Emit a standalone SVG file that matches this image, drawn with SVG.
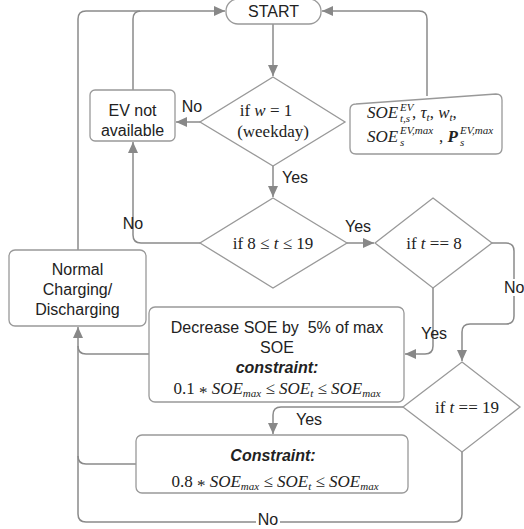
<svg xmlns="http://www.w3.org/2000/svg" width="524" height="529" viewBox="0 0 524 529">
<defs>
<marker id="ah" markerUnits="userSpaceOnUse" markerWidth="12" markerHeight="10" refX="11" refY="5" orient="auto">
<path d="M0,0 L11,5 L0,10 Z" fill="#888"/>
</marker>
<style>
.box{fill:#fff;stroke:#999;stroke-width:1.3}
.cn{fill:none;stroke:#8a8a8a;stroke-width:1.5}
.ar{marker-end:url(#ah)}
.t{font-family:"Liberation Sans",Arial,sans-serif;font-size:16px;fill:#222}
.m{font-family:"Liberation Serif","Times New Roman",serif;font-size:17px;fill:#222}
.i{font-style:italic}
.s{font-size:11px}
.lb{fill:#fff}
</style>
</defs>
<rect width="524" height="529" fill="#fff"/>
<g id="connectors">
<path class="cn ar" d="M273,24 V76"/>
<path class="cn ar" d="M200,122 H176"/>
<path class="cn ar" d="M273,166 V197"/>
<path class="cn ar" d="M200,243 H141 Q133,243 133,235 V142"/>
<path class="cn ar" d="M133,90 V19 Q133,11 141,11 H225"/>
<path class="cn" d="M78,250 V19 Q78,11 86,11 H140"/>
<path class="cn ar" d="M427,96 V19 Q427,11 419,11 H322"/>
<path class="cn ar" d="M347,243 H374"/>
<path class="cn ar" d="M492,243 H506 Q514,243 514,251 V316 Q514,324 506,324 H470 Q462,324 462,332 V361"/>
<path class="cn ar" d="M433,288 V346 Q433,354 425,354 H405"/>
<path class="cn" d="M149,354 H86 Q78,354 78,346"/>
<path class="cn" d="M136,464 H86 Q78,464 78,456"/>
<path class="cn ar" d="M462,452 V514 Q462,522 454,522 H86 Q78,522 78,514 V327"/>
<path class="cn ar" d="M403,407 H281 Q273,407 273,415 V434"/>
<rect class="lb" x="256" y="512" width="24" height="16"/>
<text class="t" x="268" y="525" text-anchor="middle">No</text>
<text class="t" x="192" y="112" text-anchor="middle">No</text>
<text class="t" x="295" y="183" text-anchor="middle">Yes</text>
<text class="t" x="133" y="229" text-anchor="middle">No</text>
<text class="t" x="358" y="232" text-anchor="middle">Yes</text>
<rect class="lb" x="503" y="279" width="21" height="17"/>
<text class="t" x="504" y="293">No</text>
<text class="t" x="434" y="339" text-anchor="middle">Yes</text>
<text class="t" x="309" y="425" text-anchor="middle">Yes</text>
</g>
<g id="start">
<rect class="box" x="226" y="-1" width="95" height="25" rx="12"/>
<text class="t" x="273.5" y="17" text-anchor="middle">START</text>
</g>
<g id="d-weekday">
<path class="box" d="M273,77 L345,122 L273,166 L200,122 Z"/>
<text class="m" x="266" y="116" text-anchor="middle">if <tspan class="i">w</tspan> = 1</text>
<text class="m" x="273" y="137" text-anchor="middle">(weekday)</text>
</g>
<g id="ev-not-available">
<rect class="box" x="90" y="90" width="85" height="51" rx="5"/>
<text class="t" x="132.5" y="116" text-anchor="middle">EV not</text>
<text class="t" x="132.5" y="136" text-anchor="middle">available</text>
</g>
<g id="inputs">
<path class="box" d="M356,104 L496,94 Q502,94 502,100 V148 Q502,154 496,154 H356 Q350,154 350,148 V110 Q350,104 356,104 Z"/>
<text class="m i" x="367" y="118" font-size="18">SOE</text>
<text class="m i s" x="400" y="111">EV</text>
<text class="m i s" x="400" y="122">t,s</text>
<text class="m" x="412" y="118">, <tspan class="i">τ</tspan><tspan class="i s" dy="3">t</tspan><tspan dy="-3">, </tspan><tspan class="i">w</tspan><tspan class="i s" dy="3">t</tspan><tspan dy="-3">,</tspan></text>
<text class="m i" x="367" y="142" font-size="18">SOE</text>
<text class="m i s" x="400" y="134">EV,max</text>
<text class="m i s" x="400" y="146">s</text>
<text class="m" x="439" y="142">, <tspan class="i" font-weight="bold">P</tspan></text>
<text class="m i s" x="460" y="134">EV,max</text>
<text class="m i s" x="460" y="146">s</text>
</g>
<g id="d-time-range">
<path class="box" d="M273,198 L347,243 L273,288 L200,243 Z"/>
<text class="m" x="273" y="249" text-anchor="middle">if 8 ≤ <tspan class="i">t</tspan> ≤ 19</text>
</g>
<g id="d-t8">
<path class="box" d="M433,198 L492,243 L433,288 L375,243 Z"/>
<text class="m" x="434" y="249" text-anchor="middle">if <tspan class="i">t</tspan> == 8</text>
</g>
<g id="normal">
<rect class="box" x="9" y="250" width="137" height="76" rx="6"/>
<text class="t" x="77.5" y="275" text-anchor="middle">Normal</text>
<text class="t" x="77.5" y="295" text-anchor="middle">Charging/</text>
<text class="t" x="77.5" y="315" text-anchor="middle">Discharging</text>
</g>
<g id="decrease">
<rect class="box" x="149" y="307" width="255" height="95" rx="6"/>
<text class="t" x="277" y="333" text-anchor="middle" xml:space="preserve">Decrease SOE by  5% of max</text>
<text class="t" x="277" y="353" text-anchor="middle">SOE</text>
<text class="t" x="277" y="373" text-anchor="middle" font-weight="bold" font-style="italic">constraint:</text>
<text class="m" x="277" y="394" text-anchor="middle">0.1 <tspan dy="4">*</tspan><tspan dy="-4"> </tspan><tspan class="i">SOE</tspan><tspan class="i s" dy="3">max</tspan><tspan dy="-3"> ≤ </tspan><tspan class="i">SOE</tspan><tspan class="i s" dy="3">t</tspan><tspan dy="-3"> ≤ </tspan><tspan class="i">SOE</tspan><tspan class="i s" dy="3">max</tspan></text>
</g>
<g id="d-t19">
<path class="box" d="M462,362 L520,407 L462,452 L403,407 Z"/>
<text class="m" x="467" y="413" text-anchor="middle">if <tspan class="i">t</tspan> == 19</text>
</g>
<g id="constraint">
<rect class="box" x="136" y="435" width="272" height="58" rx="6"/>
<text class="t" x="273" y="461" text-anchor="middle" font-weight="bold" font-style="italic">Constraint:</text>
<text class="m" x="275" y="487" text-anchor="middle">0.8 <tspan dy="4">*</tspan><tspan dy="-4"> </tspan><tspan class="i">SOE</tspan><tspan class="i s" dy="3">max</tspan><tspan dy="-3"> ≤ </tspan><tspan class="i">SOE</tspan><tspan class="i s" dy="3">t</tspan><tspan dy="-3"> ≤ </tspan><tspan class="i">SOE</tspan><tspan class="i s" dy="3">max</tspan></text>
</g>
</svg>
